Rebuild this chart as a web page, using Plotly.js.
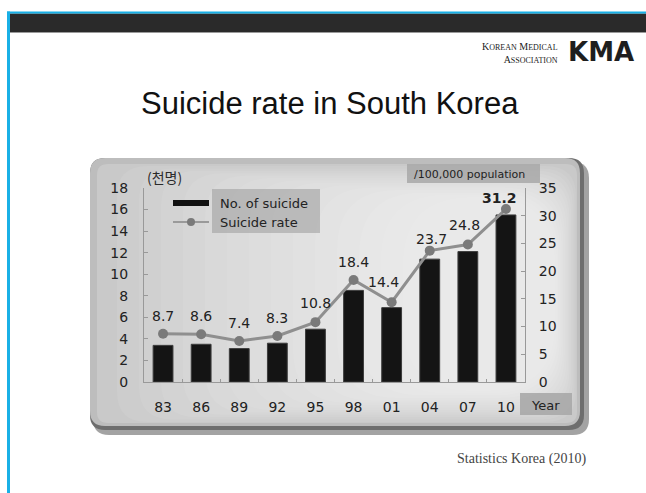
<!DOCTYPE html>
<html><head><meta charset="utf-8">
<script src="https://cdn.plot.ly/plotly-3.0.1.min.js"></script>
<style>html,body{margin:0;padding:0;background:#fff;}#chart{width:646px;height:493px;}</style>
</head><body><div id="chart"></div>
<script>
// ---- data ----
const years = ['83','86','89','92','95','98','01','04','07','10'];
const suicideThousands = [3.4, 3.5, 3.1, 3.6, 4.9, 8.5, 6.9, 11.4, 12.1, 15.5];
const ratePer100k = [8.7, 8.6, 7.4, 8.3, 10.8, 18.4, 14.4, 23.7, 24.8, 31.2];
const rateLabels = ['8.7','8.6','7.4','8.3','10.8','18.4','14.4','23.7','24.8','<b>31.2</b>'];
const leftTicks = [0,2,4,6,8,10,12,14,16,18];
const rightTicks = [0,5,10,15,20,25,30,35];

// ---- layout helpers (pixel -> paper) ----
const W = 646, H = 493;
const px = x => x / W;
const py = y => 1 - y / H;
function rr(x0,y0,x1,y1,r,fill,opacity){
  const X=v=>px(v).toFixed(5), Y=v=>py(v).toFixed(5);
  const p = `M${X(x0+r)},${Y(y0)} L${X(x1-r)},${Y(y0)} Q${X(x1)},${Y(y0)} ${X(x1)},${Y(y0+r)} `+
            `L${X(x1)},${Y(y1-r)} Q${X(x1)},${Y(y1)} ${X(x1-r)},${Y(y1)} `+
            `L${X(x0+r)},${Y(y1)} Q${X(x0)},${Y(y1)} ${X(x0)},${Y(y1-r)} `+
            `L${X(x0)},${Y(y0+r)} Q${X(x0)},${Y(y0)} ${X(x0+r)},${Y(y0)} Z`;
  return {type:'path', xref:'paper', yref:'paper', path:p, fillcolor:fill,
          opacity: opacity==null?1:opacity, line:{width:0}, layer:'below'};
}
function rect(x0,y0,x1,y1,fill,opacity){
  return {type:'rect', xref:'paper', yref:'paper', x0:px(x0), x1:px(x1), y0:py(y0), y1:py(y1),
          fillcolor:fill, opacity: opacity==null?1:opacity, line:{width:0}, layer:'below'};
}
function txt(x,y,text,size,opts){
  return Object.assign({xref:'paper', yref:'paper', x:px(x), y:py(y), text:text, showarrow:false,
    xanchor:'center', yanchor:'middle', font:{family:'DejaVu Sans', size:size, color:'#222'}}, opts||{});
}

const shapes = [
  // page header
  rect(7,11.5,646,13.7,'#19b0e6'),
  rect(9,13.7,646,32,'#2a2a2a'),
  rect(9,32,646,33,'#9a9a9a'),
  rect(7,11.5,10,493,'#19b0e6'),
  // chart frame
  rr(93,162,589,435,16,'#333',0.45),
  rr(90,158,584,430,15,'#6e6e6e'),
  rr(90,158,580,426,15,'#bdbdbd'),
  rr(97,164,577,423,11,'#c9c9c9')
];
// soft light glow inside the frame (decorative gradient, stacked translucent layers)
for (let k = 0; k < 14; k++) {
  const inL = 20 + k * 22, inT = 2 + k * 2.4, inR = 1 + k * 1.6, inB = 1 + k * 2.4;
  shapes.push(rr(97 + inL, 164 + inT, 577 - inR, 423 - inB, 30 + k * 3, '#ffffff', 0.075));
}
shapes.push(
  // info boxes
  rect(407,164,540,183,'#a8a8a8',0.85),
  rect(212,189,320,233,'#9a9a9a',0.55),
  rect(520,393,572,415,'#a8a8a8',0.9),
  // manual legend symbols
  rect(173,200,209,206,'#111'),
  {type:'line', xref:'paper', yref:'paper', x0:px(173), x1:px(209), y0:py(222), y1:py(222),
   line:{color:'#9a9a9a', width:2}, layer:'below'},
  {type:'circle', xref:'paper', yref:'paper', x0:px(187), x1:px(195), y0:py(218), y1:py(226),
   fillcolor:'#7a7a7a', line:{width:0}, layer:'below'}
);

const labelDy = [18,18,18,18,19,18,20,12,20,11];
const labelDx = [0,0,0,0,0,0,-8,2,-3,-6];

const annotations = [
  txt(330,103,'Suicide rate in South Korea',31,{font:{family:'Liberation Sans', size:31, color:'#111'}}),
  txt(560,53,"K<span style='font-size:8px'>OREAN</span> M<span style='font-size:8px'>EDICAL</span><br>A<span style='font-size:8px'>SSOCIATION</span>",10,
      {xanchor:'right', align:'right', font:{family:'Liberation Serif', size:10, color:'#222'}}),
  txt(566,52,'<b>KMA</b>',26,{xanchor:'left', font:{family:'DejaVu Sans', size:26, color:'#1e1e1e'}}),
  txt(164,177,'(천명)',14,{font:{family:'Noto Sans CJK KR', size:14, color:'#2a2a2a'}}),
  txt(412,174,'/100,000 population',11,{xanchor:'left', font:{family:'DejaVu Sans', size:11, color:'#222'}}),
  txt(218,203,'No. of suicide',13,{xanchor:'left', font:{family:'DejaVu Sans', size:13, color:'#222'}}),
  txt(218,222,'Suicide rate',13,{xanchor:'left', font:{family:'DejaVu Sans', size:13, color:'#222'}}),
  txt(545,405,'Year',13,{font:{family:'DejaVu Sans', size:13, color:'#222'}}),
  txt(455,459,'Statistics Korea (2010)',14,{xanchor:'left', font:{family:'Liberation Serif', size:14, color:'#444'}})
];
years.forEach((yr,i)=>{
  annotations.push({xref:'x', yref:'y2', x:i, y:ratePer100k[i], text:rateLabels[i], showarrow:false,
    xanchor:'center', yanchor:'middle', yshift:labelDy[i], xshift:labelDx[i],
    font:{family:'DejaVu Sans', size:14, color:'#222'}});
});

const axisFont = {family:'DejaVu Sans', size:14, color:'#222'};
const layout = {
  width:W, height:H, margin:{l:0,r:0,t:0,b:0},
  paper_bgcolor:'#ffffff', plot_bgcolor:'rgba(0,0,0,0)', showlegend:false,
  xaxis:{domain:[px(144),px(525)], type:'category', range:[-0.5,9.5], anchor:'y',
    showline:true, linecolor:'#999', linewidth:1, mirror:false,
    ticks:'inside', tickson:'boundaries', ticklen:3, tickcolor:'#999',
    tickfont:axisFont, ticklabelstandoff:12, showgrid:false, zeroline:false, fixedrange:true},
  yaxis:{domain:[py(382),py(188)], range:[0,18], tickvals:leftTicks, anchor:'x',
    showline:true, linecolor:'#999', linewidth:1, ticks:'inside', ticklen:4, tickcolor:'#999',
    tickfont:axisFont, ticklabelstandoff:12, showgrid:false, zeroline:false, fixedrange:true},
  yaxis2:{overlaying:'y', side:'right', anchor:'x', range:[0,35], tickvals:rightTicks,
    showline:true, linecolor:'#999', linewidth:1, ticks:'inside', ticklen:4, tickcolor:'#999',
    tickfont:axisFont, ticklabelstandoff:10, showgrid:false, zeroline:false, fixedrange:true},
  shapes:shapes, annotations:annotations
};

const traces = [
  {type:'bar', name:'No. of suicide', x:years, y:suicideThousands, width:0.52,
   marker:{color:'#141414', line:{color:'#3c3c3c', width:1}}, hoverinfo:'skip'},
  {type:'scatter', name:'Suicide rate', x:years, y:ratePer100k, yaxis:'y2', mode:'lines+markers',
   line:{color:'#8f8f8f', width:3}, marker:{size:10, color:'#7a7a7a'}, hoverinfo:'skip', cliponaxis:false}
];

Plotly.newPlot('chart', traces, layout, {staticPlot:true, displayModeBar:false});
</script>
</body></html>
